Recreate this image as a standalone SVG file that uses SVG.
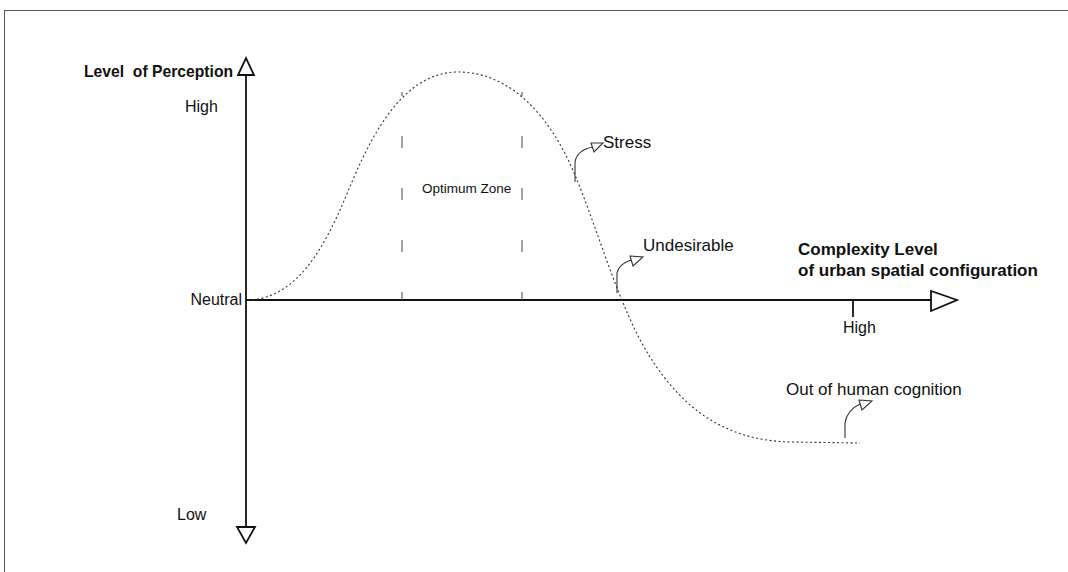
<svg xmlns="http://www.w3.org/2000/svg" width="1068" height="572" viewBox="0 0 1068 572">
<defs>
<style>
.t{font-family:"Liberation Sans",Arial,sans-serif;fill:#111;}
.b{font-weight:bold;white-space:pre;}
.axis{stroke:#111;stroke-width:1.8;fill:none;}
.head{stroke:#111;stroke-width:1.8;fill:#fff;}
.curve{stroke:#333;stroke-width:1.1;fill:none;stroke-dasharray:2 2.5;}
.zone{stroke:#444;stroke-width:1;stroke-dasharray:12 40;stroke-dashoffset:4;}
.call{stroke:#333;stroke-width:1.1;fill:none;}
.chead{stroke:#333;stroke-width:1.1;fill:#fff;}
</style>
</defs>
<rect x="4.5" y="10.5" width="1080" height="580" fill="#fff" stroke="#555" stroke-width="1"/>
<g id="connectors">
<line class="axis" x1="246" y1="75" x2="246" y2="527"/>
<line class="axis" x1="246" y1="300" x2="931" y2="300"/>
<polygon class="head" points="238,75 254,75 246,58"/>
<polygon class="head" points="237,527 255,527 246,543"/>
<polygon class="head" points="931,291 931,311 957,300"/>
<line class="axis" x1="853" y1="300" x2="853" y2="317" stroke-width="1.2"/>
<line class="zone" x1="402" y1="300" x2="402" y2="92"/>
<line class="zone" x1="522" y1="300" x2="522" y2="92"/>
<path class="curve" d="M248,300 C295,299 322,250 340,210 C358,170 390,72 458,72 C510,72 550,115 575,175 C598,230 620,310 650,357 S720,440 790,442 L860,443"/>
<path class="call" d="M575,182 L575,162 Q577,150 593,147"/>
<polygon class="chead" points="591,143 603,143 594,152"/>
<path class="call" d="M617,293 L617,273 Q619,264 631,260"/>
<polygon class="chead" points="630,256 643,257 633,266"/>
<path class="call" d="M845,438 L845,423 Q847,410 860,404"/>
<polygon class="chead" points="859,400 872,401 862,410"/>
</g>
<g id="y-axis-labels">
<text class="t b" x="84" y="77" font-size="15.7">Level  of Perception</text>
<text class="t" x="185" y="112" font-size="16">High</text>
<text class="t" x="242" y="305" font-size="16" text-anchor="end">Neutral</text>
<text class="t" x="177" y="520" font-size="16">Low</text>
</g>
<g id="x-axis-labels">
<text class="t b" x="798" y="255" font-size="17">Complexity Level</text>
<text class="t b" x="798" y="276" font-size="17">of urban spatial configuration</text>
<text class="t" x="843" y="333" font-size="16">High</text>
</g>
<g id="optimum-zone">
<text class="t" x="422" y="193" font-size="13.5">Optimum Zone</text>
</g>
<g id="stress"><text class="t" x="603" y="148" font-size="17">Stress</text></g>
<g id="undesirable"><text class="t" x="643" y="251" font-size="17">Undesirable</text></g>
<g id="out-of-cognition"><text class="t" x="786" y="395" font-size="17">Out of human cognition</text></g>
</svg>
